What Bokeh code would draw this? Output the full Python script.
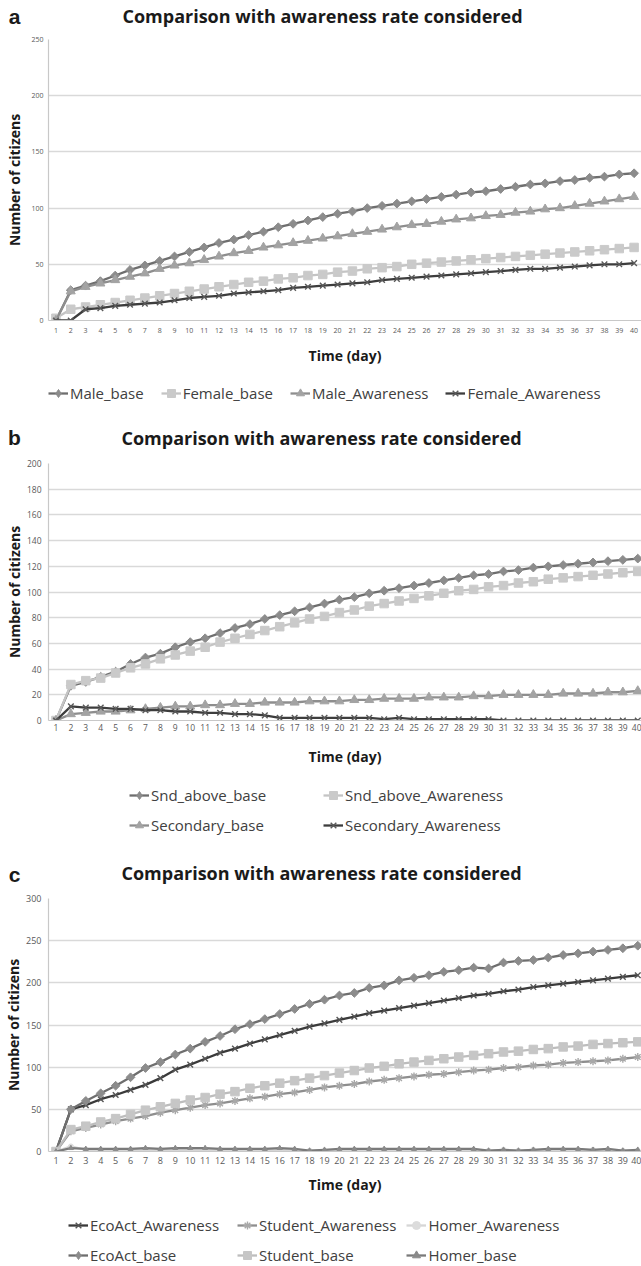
import math
import numpy as np
from bokeh.plotting import figure
from bokeh.models import Range1d, FixedTicker, Legend, LegendItem, Label
from bokeh.layouts import column
from bokeh.embed import file_html
from bokeh.resources import INLINE

# ---------------- data ----------------
days = list(range(1, 41))

a_names = ["Male_base", "Female_base", "Male_Awareness", "Female_Awareness"]
male_base = [0, 27, 31, 35, 40, 45, 49, 53, 57, 61, 65, 69, 72, 76, 79, 83, 86, 89, 92, 95,
             97, 100, 102, 104, 106, 108, 110, 112, 114, 115, 117, 119, 121, 122, 124, 125, 127, 128, 130, 131]
female_base = [2, 10, 12, 14, 16, 18, 20, 22, 24, 26, 28, 30, 32, 34, 35, 37, 38, 40, 41, 43,
               44, 46, 47, 48, 50, 51, 52, 53, 54, 55, 56, 57, 58, 59, 60, 61, 62, 63, 64, 65]
male_awareness = [0, 26, 30, 33, 36, 39, 42, 46, 49, 51, 54, 57, 60, 62, 65, 67, 69, 71, 73, 75,
                  77, 79, 81, 83, 85, 86, 88, 90, 91, 93, 94, 96, 97, 99, 100, 102, 104, 106, 108, 110]
female_awareness = [0, 0, 10, 11, 13, 14, 15, 16, 18, 20, 21, 22, 24, 25, 26, 27, 29, 30, 31, 32,
                    33, 34, 36, 37, 38, 39, 40, 41, 42, 43, 44, 45, 46, 46, 47, 48, 49, 50, 50, 51]

b_names = ["Snd_above_base", "Snd_above_Awareness", "Secondary_base", "Secondary_Awareness"]
snd_above_base = [0, 27, 30, 34, 38, 44, 49, 52, 57, 61, 64, 68, 72, 75, 79, 82, 85, 88, 91, 94,
                  96, 99, 101, 103, 105, 107, 109, 111, 113, 114, 116, 117, 119, 120, 121, 122, 123, 124, 125, 126]
snd_above_awareness = [0, 28, 31, 33, 37, 41, 44, 48, 51, 54, 57, 61, 64, 67, 70, 73, 76, 79, 81, 84,
                       86, 89, 91, 93, 95, 97, 99, 101, 102, 104, 105, 107, 108, 110, 111, 112, 113, 114, 115, 116]
secondary_base = [0, 5, 6, 7, 7, 8, 9, 10, 11, 11, 12, 12, 13, 13, 14, 14, 14, 15, 15, 15,
                  16, 16, 17, 17, 17, 18, 18, 18, 19, 19, 20, 20, 20, 20, 21, 21, 21, 22, 22, 23]
secondary_awareness = [0, 11, 10, 10, 9, 9, 8, 8, 7, 7, 6, 6, 5, 5, 4, 2, 2, 2, 2, 2,
                       2, 2, 1, 2, 1, 1, 1, 1, 1, 1, 0, 0, 0, 0, 0, 0, 0, 0, 0, 0]

c_names = ["EcoAct_Awareness", "Student_Awareness", "Homer_Awareness", "EcoAct_base", "Student_base", "Homer_base"]
ecoact_awareness = [0, 50, 55, 62, 67, 73, 79, 87, 97, 103, 110, 117, 122, 128, 133, 138, 143, 148, 152, 156,
                    160, 164, 167, 170, 173, 176, 179, 182, 185, 187, 190, 192, 195, 197, 199, 201, 203, 205, 207, 209]
student_awareness = [0, 24, 28, 32, 36, 39, 42, 46, 49, 52, 55, 57, 60, 63, 65, 68, 70, 73, 76, 78,
                     80, 83, 85, 87, 89, 91, 92, 94, 96, 97, 99, 100, 102, 103, 105, 106, 107, 108, 110, 112]
homer_awareness = [0, 6, 2, 2, 2, 2, 2, 2, 2, 2, 2, 2, 2, 2, 2, 2, 2, 1, 1, 2,
                   2, 2, 2, 2, 2, 2, 2, 2, 2, 1, 2, 1, 2, 2, 2, 2, 2, 2, 1, 1]
ecoact_base = [0, 50, 60, 69, 78, 88, 99, 106, 115, 122, 130, 137, 145, 151, 157, 163, 169, 175, 180, 185,
               188, 194, 197, 203, 206, 209, 213, 215, 218, 217, 224, 226, 227, 230, 233, 235, 237, 239, 241, 244]
student_base = [0, 26, 30, 35, 39, 44, 49, 53, 57, 61, 64, 68, 71, 75, 78, 81, 84, 87, 90, 93,
                96, 99, 101, 104, 106, 108, 110, 112, 114, 116, 118, 119, 121, 122, 124, 125, 127, 128, 129, 130]
homer_base = [0, 4, 3, 3, 3, 3, 4, 3, 4, 4, 4, 3, 3, 3, 3, 4, 3, 1, 2, 3,
              3, 3, 3, 3, 3, 3, 3, 3, 3, 1, 2, 1, 2, 3, 3, 3, 2, 3, 1, 2]

title_text = "Comparison with awareness rate considered"
x_title = "Time (day)"
y_title = "Number of citizens"

a_ticks = [0, 50, 100, 150, 200, 250]
b_ticks = [0, 20, 40, 60, 80, 100, 120, 140, 160, 180, 200]
c_ticks = [0, 50, 100, 150, 200, 250, 300]

FONT = "Open Sans"
W = 641
L = 48  # common frame left edge (the column layout lines frames up)

# marker styles: (marker, size, angle)
DIAMOND = ("square", 6.2, math.pi / 4)
SQUARE = ("square", 8.5, 0.0)
TRIANGLE = ("triangle", 9, 0.0)
XMARK = ("x", 8, 0.0)
ASTER = ("asterisk", 8, 0.0)
CIRCLE = ("circle", 5, 0.0)
SMALLTRI = ("triangle", 5, 0.0)
LEGEND_KEY = {DIAMOND: ("diamond", 11, 0.0)}

a_series = [
    (a_names[0], male_base, DIAMOND, "#6e6e6e", "#8c8c8c"),
    (a_names[1], female_base, SQUARE, "#c4c4c4", "#cacaca"),
    (a_names[2], male_awareness, TRIANGLE, "#8e8e8e", "#a3a3a3"),
    (a_names[3], female_awareness, XMARK, "#3d3d3d", "#5a5a5a"),
]
b_series = [
    (b_names[0], snd_above_base, DIAMOND, "#6e6e6e", "#8c8c8c"),
    (b_names[1], snd_above_awareness, SQUARE, "#c4c4c4", "#cacaca"),
    (b_names[2], secondary_base, TRIANGLE, "#8e8e8e", "#a3a3a3"),
    (b_names[3], secondary_awareness, XMARK, "#3d3d3d", "#5a5a5a"),
]
c_series = [
    (c_names[0], ecoact_awareness, XMARK, "#3a3a3a", "#555555"),
    (c_names[1], student_awareness, ASTER, "#8e8e8e", "#a8a8a8"),
    (c_names[2], homer_awareness, CIRCLE, "#d6d6d6", "#dcdcdc"),
    (c_names[3], ecoact_base, DIAMOND, "#6e6e6e", "#8c8c8c"),
    (c_names[4], student_base, SQUARE, "#bdbdbd", "#c6c6c6"),
    (c_names[5], homer_base, SMALLTRI, "#7a7a7a", "#8a8a8a"),
]


def draw_series(p, xs, vals, style, lc, mc):
    mk, sz, ang = style
    r1 = p.line(xs, vals, line_color=lc, line_width=2.3)
    if mk in ("x", "asterisk"):
        r2 = p.scatter(xs, vals, marker=mk, size=sz, line_color=mc, line_width=1.4)
    else:
        r2 = p.scatter(xs, vals, marker=mk, size=sz, angle=ang,
                       fill_color=mc, line_color=mc, line_width=1)
    return [r1, r2]


def blank(h):
    # frame covers page x L..W over the full height; data units == page pixels
    p = figure(width=W, height=h, output_backend="svg", toolbar_location=None,
               x_range=Range1d(L, W), y_range=Range1d(0, h),
               x_axis_type=None, y_axis_type=None,
               min_border=0, min_border_left=L, min_border_right=0,
               min_border_top=0, min_border_bottom=0)
    p.title.visible = False
    p.outline_line_color = None
    p.xgrid.visible = False
    p.ygrid.visible = False
    return p


def header(letter, h, title_xy, letter_xy):
    p = blank(h)
    p.add_layout(Label(x=title_xy[0], y=h - title_xy[1], text=title_text, text_font=FONT,
                       text_font_size="18px", text_font_style="bold", text_align="center",
                       text_baseline="middle", text_color="#1a1a1a"))
    p.add_layout(Label(x=letter_xy[0], y=h - letter_xy[1], text=letter, text_font="Liberation Sans",
                       text_font_size="21px", text_font_style="bold", text_align="center",
                       text_baseline="middle", text_color="#1a1a1a"), "left")
    return p


def legend_fig(series, h, loc, ncols, spacing, label_w):
    p = blank(h)
    items = []
    for name, vals, style, lc, mc in series:
        # legend keys only: one empty (NaN) point in the same style as the series
        key = LEGEND_KEY.get(style, style)
        rs = draw_series(p, np.array([np.nan]), np.array([np.nan]), key, lc, mc)
        items.append(LegendItem(label=name, renderers=rs))
    kw = dict(items=items, location=loc, orientation="horizontal",
              glyph_width=20, glyph_height=20, label_height=20, label_standoff=2,
              spacing=spacing, padding=0, margin=0,
              border_line_color=None, background_fill_alpha=0,
              label_text_font=FONT, label_text_font_size="15px", label_text_color="#404040")
    if ncols:
        kw["ncols"] = ncols
    if label_w:
        kw["label_width"] = label_w
    p.add_layout(Legend(**kw))
    return p


def chart(series, height, top, frame_h, y_max, y_ticks, x_end,
          tick_px, x_std, xlab_std, y_std, ylab_std):
    bottom = height - top - frame_h
    p = figure(width=W, height=height, output_backend="svg", toolbar_location=None,
               x_range=Range1d(0.5, x_end), y_range=Range1d(0, y_max),
               min_border_left=L, min_border_right=0, min_border_top=top,
               min_border_bottom=bottom)
    p.title.visible = False
    p.outline_line_color = None
    p.xgrid.visible = False
    p.ygrid.grid_line_color = "#d9d9d9"
    p.ygrid.grid_line_width = 1.4
    p.ygrid.ticker = FixedTicker(ticks=y_ticks)
    p.xaxis.ticker = FixedTicker(ticks=days)
    p.yaxis.ticker = FixedTicker(ticks=y_ticks)
    for ax in (p.xaxis, p.yaxis):
        ax.major_tick_line_color = None
        ax.minor_tick_line_color = None
        ax.major_tick_out = 0
        ax.major_tick_in = 0
        ax.axis_line_color = "#c8c8c8"
        ax.axis_line_width = 1.2
        ax.major_label_text_font = FONT
        ax.major_label_text_font_size = f"{tick_px}px"
        ax.major_label_text_color = "#595959"
        ax.axis_label_text_font = FONT
        ax.axis_label_text_font_size = "14px"
        ax.axis_label_text_font_style = "bold"
        ax.axis_label_text_color = "#1a1a1a"
    p.xaxis.axis_label = x_title
    p.yaxis.axis_label = y_title
    p.xaxis.major_label_standoff = x_std
    p.xaxis.axis_label_standoff = xlab_std
    p.yaxis.major_label_standoff = y_std
    p.yaxis.axis_label_standoff = ylab_std
    for name, vals, style, lc, mc in series:
        draw_series(p, days, vals, style, lc, mc)
    return p


# ---- panel a (page y 0..425)
head_a = header("a", 30, (322, 15), (14, 16))
chart_a = chart(a_series, height=342, top=9, frame_h=281, y_max=250, y_ticks=a_ticks,
                x_end=40.5, tick_px=7, x_std=7, xlab_std=10, y_std=5, ylab_std=4)
leg_a = legend_fig(a_series, 53, (0, 22), None, 17, None)

# ---- panel b (page y 425..850)
head_b = header("b", 27, (321, 12), (14, 12))
chart_b = chart(b_series, height=320, top=11, frame_h=257, y_max=200, y_ticks=b_ticks,
                x_end=40.25, tick_px=8.5, x_std=3, xlab_std=13, y_std=7, ylab_std=0)
leg_b = legend_fig(b_series, 78, (129 - L, 15), 2, 10, 162)

# ---- panel c (page y 850..1266)
head_c = header("c", 39, (321, 22), (14, 24))
chart_c = chart(c_series, height=311, top=9, frame_h=253, y_max=300, y_ticks=c_ticks,
                x_end=40.25, tick_px=9, x_std=5, xlab_std=8, y_std=7, ylab_std=0)
leg_c = legend_fig(c_series, 66, (68 - L, 1), 3, 10, 137)

layout = column(head_a, chart_a, leg_a, head_b, chart_b, leg_b, head_c, chart_c, leg_c, spacing=0)
open("out.html", "w").write(file_html(layout, INLINE))
